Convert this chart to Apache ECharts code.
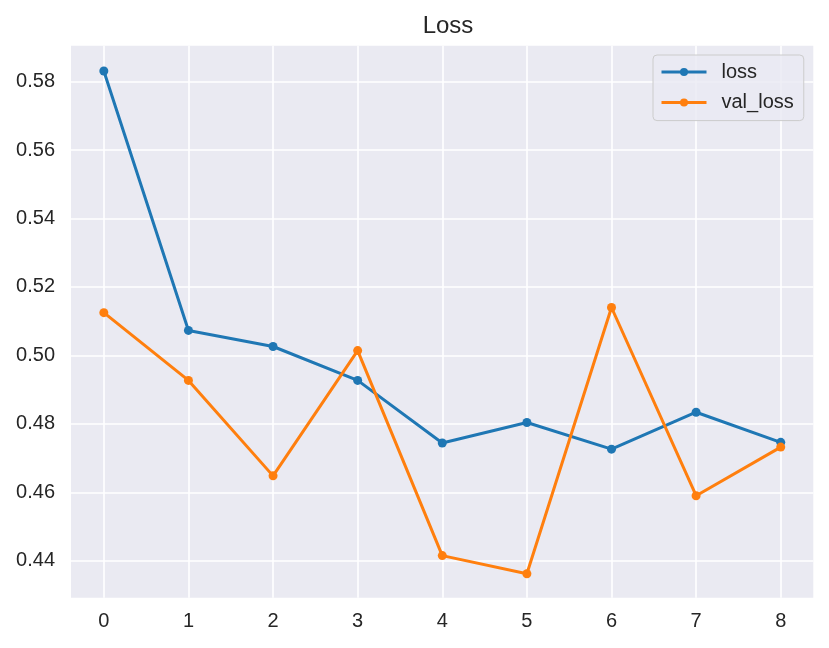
<!DOCTYPE html>
<html>
<head>
<meta charset="utf-8">
<script src="https://cdn.jsdelivr.net/npm/echarts@6/dist/echarts.min.js"></script>
<style>html,body{margin:0;padding:0;background:#fff;}#c{width:829px;height:648px;}</style>
</head>
<body>
<div id="c"></div>
<script>
var epochs = [0, 1, 2, 3, 4, 5, 6, 7, 8];
var lossValues = [0.5831, 0.5073, 0.5026, 0.4927, 0.4744, 0.4804, 0.4726, 0.4834, 0.4746];
var valLossValues = [0.5125, 0.4927, 0.4648, 0.5014, 0.4415, 0.4362, 0.5140, 0.4590, 0.4732];
var xTicks = [0, 1, 2, 3, 4, 5, 6, 7, 8];
var yTicks = [0.44, 0.46, 0.48, 0.50, 0.52, 0.54, 0.56, 0.58];

var FONT = '"Liberation Sans", Arial, sans-serif';
var TXT = '#262626';

function pairs(xs, ys) { return xs.map(function (x, i) { return [x, ys[i]]; }); }

var chart = echarts.init(document.getElementById('c'), null, { renderer: 'canvas' });
chart.setOption({
  backgroundColor: '#ffffff',
  animation: false,
  title: {
    text: 'Loss', left: 443, top: 9, textAlign: 'center',
    textStyle: { fontFamily: FONT, fontSize: 24, fontWeight: 'normal', color: TXT }
  },
  grid: { left: 71, right: 15.7, top: 45.7, bottom: 50.3, show: true, backgroundColor: '#EAEAF2', borderWidth: 0 },
  legend: {
    orient: 'vertical', left: 653, top: 55,
    padding: [7, 10, 8, 7],
    itemGap: 10.6, itemWidth: 45, itemHeight: 10,
    lineStyle: { width: 3 },
    backgroundColor: 'rgba(234,234,242,0.8)', borderColor: '#cccccc', borderWidth: 1, borderRadius: 4,
    textStyle: { fontFamily: FONT, fontSize: 20, color: TXT, lineHeight: 20, padding: [0, 0, 0, 10] },
    data: ['loss', 'val_loss']
  },
  xAxis: {
    type: 'value', min: -0.388, max: 8.385,
    axisLine: { show: false },
    axisTick: { show: false, customValues: xTicks },
    axisLabel: { customValues: xTicks, margin: 14, fontFamily: FONT, fontSize: 20, color: TXT },
    splitLine: { show: true, lineStyle: { color: '#ffffff', width: 1.6 } }
  },
  yAxis: {
    type: 'value', min: 0.4292, max: 0.5905,
    axisLine: { show: false },
    axisTick: { show: false, customValues: yTicks },
    axisLabel: { customValues: yTicks, margin: 16, fontFamily: FONT, fontSize: 20, color: TXT,
      formatter: function (v) { return v.toFixed(2); } },
    splitLine: { show: true, lineStyle: { color: '#ffffff', width: 1.6 } }
  },
  series: [
    { name: 'loss', type: 'line', data: pairs(epochs, lossValues), symbol: 'circle', symbolSize: 9,
      color: '#1f77b4', lineStyle: { width: 3, color: '#1f77b4' }, itemStyle: { color: '#1f77b4' } },
    { name: 'val_loss', type: 'line', data: pairs(epochs, valLossValues), symbol: 'circle', symbolSize: 9,
      color: '#ff7f0e', lineStyle: { width: 3, color: '#ff7f0e' }, itemStyle: { color: '#ff7f0e' } }
  ]
});
</script>
</body>
</html>
